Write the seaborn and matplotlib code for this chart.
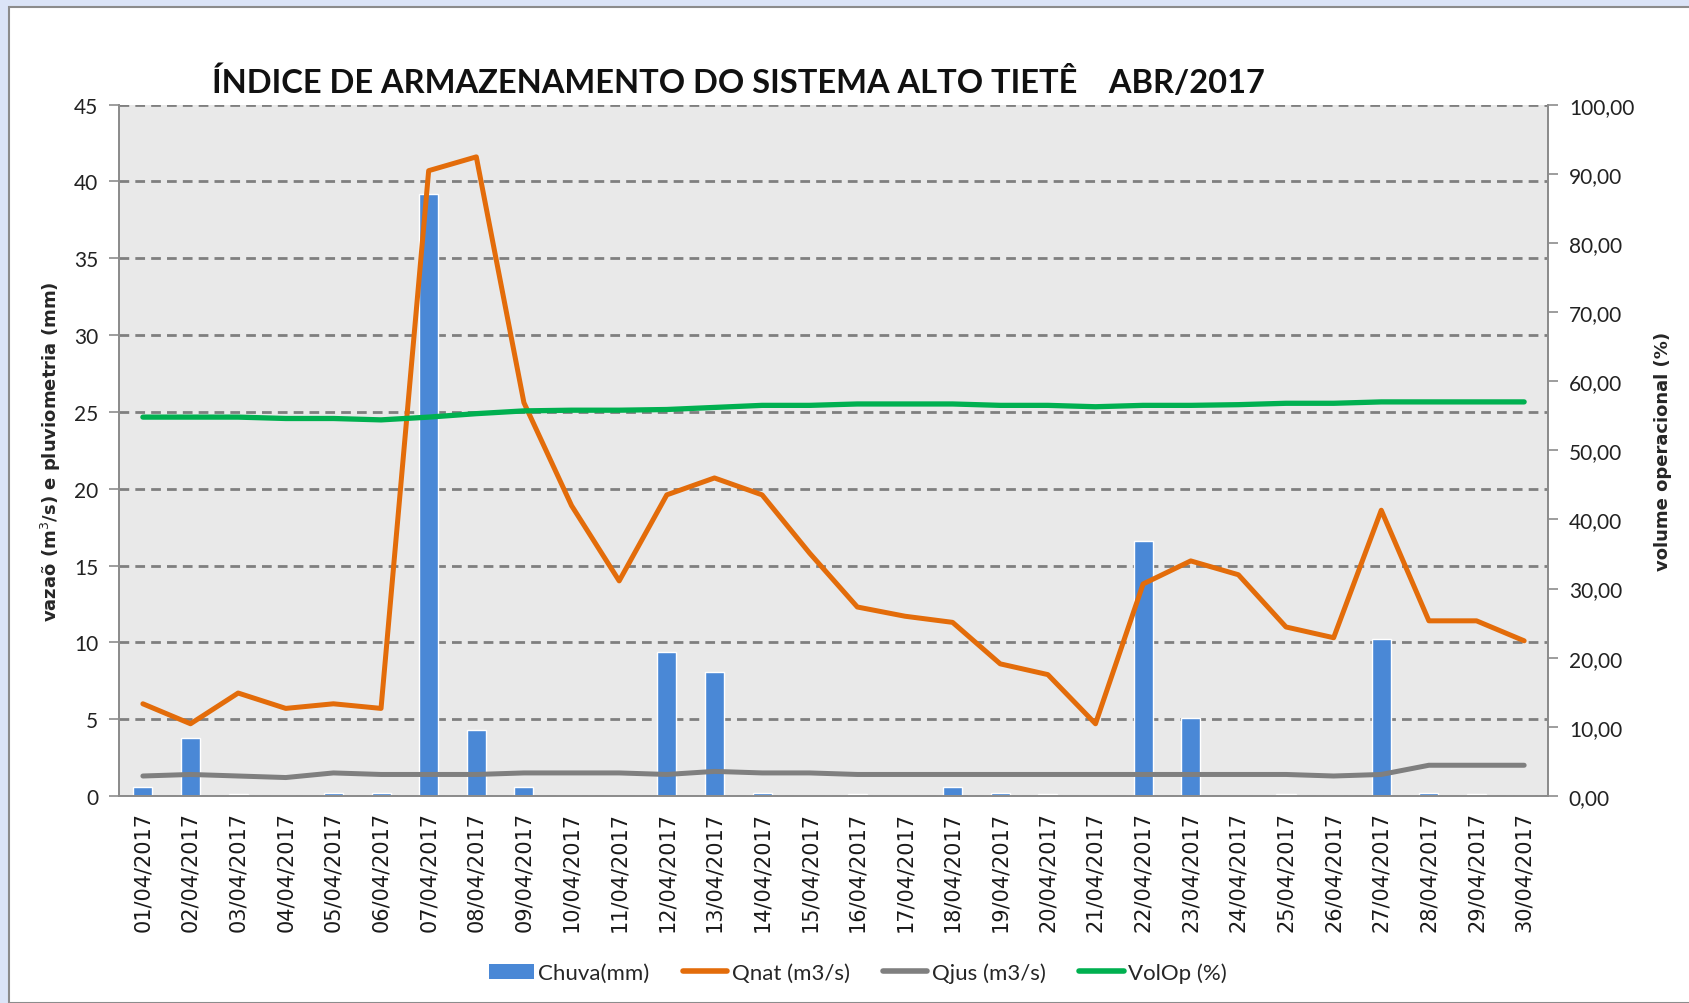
import numpy as np
import pandas as pd
import matplotlib
matplotlib.use("Agg")
import matplotlib.pyplot as plt
import matplotlib.ticker as mticker
from matplotlib.patches import Rectangle, Patch
from matplotlib.lines import Line2D
import seaborn as sns

# Dados (abril/2017)
dias = [f"{d:02d}/04/2017" for d in range(1, 31)]
chuva = [0.6, 3.8, 0.1, 0.0, 0.2, 0.2, 39.2, 4.3, 0.6, 0.0,
         0.0, 9.4, 8.1, 0.2, 0.0, 0.1, 0.0, 0.6, 0.2, 0.1,
         0.0, 16.6, 5.1, 0.0, 0.1, 0.0, 10.2, 0.2, 0.1, 0.0]
qnat = [6.0, 4.7, 6.7, 5.7, 6.0, 5.7, 40.7, 41.6, 25.6, 18.9,
        14.0, 19.6, 20.7, 19.6, 15.8, 12.3, 11.7, 11.3, 8.6, 7.9,
        4.7, 13.8, 15.3, 14.4, 11.0, 10.3, 18.6, 11.4, 11.4, 10.1]
qjus = [1.3, 1.4, 1.3, 1.2, 1.5, 1.4, 1.4, 1.4, 1.5, 1.5,
        1.5, 1.4, 1.6, 1.5, 1.5, 1.4, 1.4, 1.4, 1.4, 1.4,
        1.4, 1.4, 1.4, 1.4, 1.4, 1.3, 1.4, 2.0, 2.0, 2.0]
volop = [54.8, 54.8, 54.8, 54.6, 54.6, 54.4, 54.8, 55.3, 55.7, 55.8,
         55.8, 55.9, 56.2, 56.5, 56.5, 56.7, 56.7, 56.7, 56.5, 56.5,
         56.3, 56.5, 56.5, 56.6, 56.8, 56.8, 57.0, 57.0, 57.0, 57.0]

df = pd.DataFrame({"dia": dias, "pos": np.arange(len(dias)), "chuva": chuva,
                   "qnat": qnat, "qjus": qjus, "volop": volop})

cor_chuva = "#4a88d6"
cor_qnat = "#e36c0a"
cor_qjus = "#7f7f7f"
cor_vol = "#00b050"

sns.set_style("white")
plt.rcParams["font.family"] = ["Lato", "DejaVu Sans"]

fig = plt.figure(figsize=(16.89, 10.04), dpi=100)
fig.patch.set_facecolor("#dbe4f7")
fig.patches.append(Rectangle((9 / 1689, 0), 1.0, 1 - 8 / 1004, transform=fig.transFigure,
                             facecolor="white", edgecolor="#8c8c8c", linewidth=1.5, zorder=-10))

ax = fig.add_axes([0.0705, 0.2062, 0.846, 0.6886])
ax.set_facecolor("#e9e9e9")

sns.barplot(data=df, x="pos", y="chuva", color=cor_chuva, width=0.4,
            saturation=1, ax=ax, zorder=2, native_scale=True)
sns.lineplot(data=df, x="pos", y="qnat", color=cor_qnat, linewidth=3.6, ax=ax, zorder=4)
sns.lineplot(data=df, x="pos", y="qjus", color=cor_qjus, linewidth=3.6, ax=ax, zorder=3)

ax.set_xlim(-0.5, len(dias) - 0.5)
ax.set_ylim(0, 45)
ax.yaxis.set_major_locator(mticker.MultipleLocator(5))
ax.set_axisbelow(True)
ax.grid(axis="y", color="#7f7f7f", linestyle=(0, (3.5, 2.2)), linewidth=2.0)
ax.grid(axis="x", visible=False)

ax.set_xticks(df["pos"])
ax.set_xticklabels(dias, rotation=90, fontsize=15, family="DejaVu Sans", color="#1a1a1a")
ax.xaxis.set_minor_locator(mticker.FixedLocator(np.arange(-0.5, len(dias), 1.0)))
ax.tick_params(axis="x", which="major", length=0, pad=11)
ax.tick_params(axis="x", which="minor", length=8, color="#8c8c8c", width=1.2)
ax.tick_params(axis="y", length=7, color="#8c8c8c", width=1.2, labelsize=15, labelcolor="#222222", pad=8)

ax.set_xlabel("")
ax.set_ylabel("vazaõ (m$^3$/s) e pluviometria (mm)", fontsize=13, fontweight="bold",
              family="DejaVu Sans", labelpad=8)

ax.spines["top"].set_visible(False)
for s in ["left", "right", "bottom"]:
    ax.spines[s].set_color("#8c8c8c")
    ax.spines[s].set_linewidth(1.3)

ax2 = ax.twinx()
sns.lineplot(data=df, x="pos", y="volop", color=cor_vol, linewidth=3.8, ax=ax2, zorder=5)
ax2.set_ylim(0, 100)
ax2.yaxis.set_major_locator(mticker.MultipleLocator(10))
ax2.yaxis.set_major_formatter(mticker.FuncFormatter(lambda v, p: f"{v:.2f}".replace(".", ",")))
ax2.tick_params(axis="y", length=7, color="#8c8c8c", width=1.2, labelsize=15, labelcolor="#222222", pad=8)
ax2.set_ylabel("volume operacional (%)", fontsize=13, fontweight="bold",
               family="DejaVu Sans", labelpad=14)
ax2.spines["top"].set_visible(False)
for s in ["left", "right", "bottom"]:
    ax2.spines[s].set_color("#8c8c8c")
    ax2.spines[s].set_linewidth(1.3)
ax2.grid(False)

fig.text(0.437, 0.919, "ÍNDICE DE ARMAZENAMENTO DO SISTEMA ALTO TIETÊ    ABR/2017",
         ha="center", va="center", fontsize=23.5, fontweight="bold", color="#111111")

handles = [Patch(facecolor=cor_chuva, edgecolor="none"),
           Line2D([], [], color=cor_qnat, linewidth=4),
           Line2D([], [], color=cor_qjus, linewidth=4),
           Line2D([], [], color=cor_vol, linewidth=4)]
labels = ["Chuva(mm)", "Qnat (m3/s)", "Qjus (m3/s)", "VolOp (%)"]
fig.legend(handles, labels, loc="center", bbox_to_anchor=(0.508, 0.030), ncol=4,
           frameon=False, fontsize=16, handlelength=2.0, handletextpad=0.2, columnspacing=1.5)

fig.savefig("out.png", dpi=100, facecolor=fig.get_facecolor())
